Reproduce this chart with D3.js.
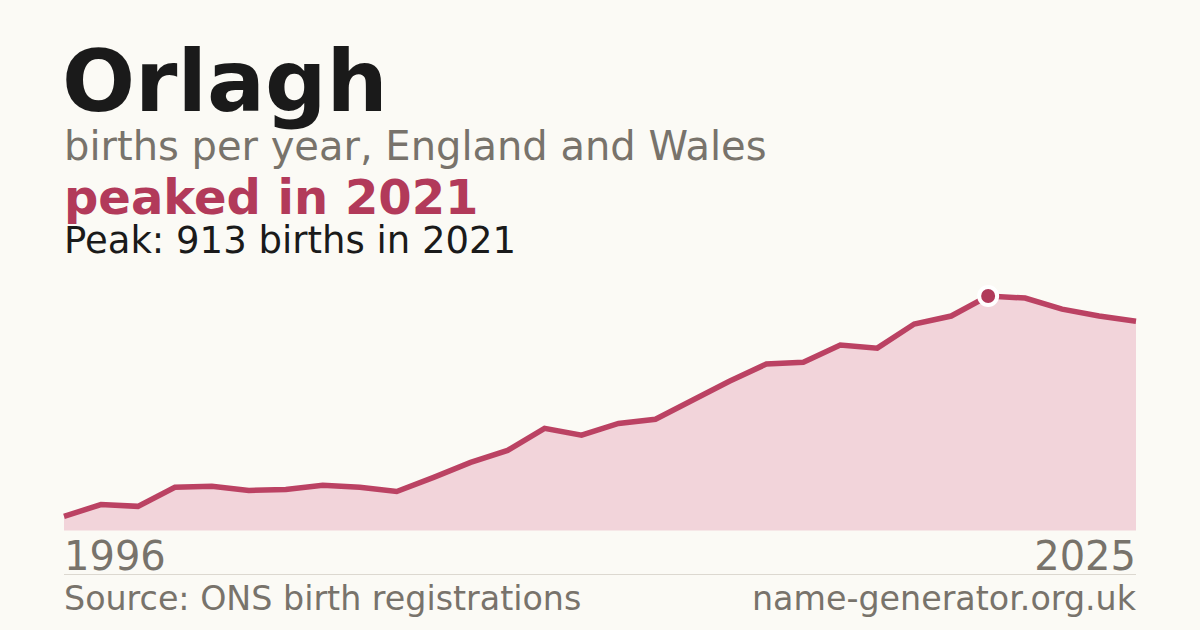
<!DOCTYPE html>
<html><head><meta charset="utf-8">
<script src="https://cdn.jsdelivr.net/npm/d3@7"></script>
<style>
html,body{margin:0;padding:0;background:#fbfaf5;}
svg{display:block;font-family:"DejaVu Sans",sans-serif;}
</style></head>
<body>
<svg id="c" width="1200" height="630"></svg>
<script>
const years = d3.range(1996, 2026);
const births = [55,101,94,168,172,156,160,176,168,152,207,265,312,398,371,417,433,507,581,648,655,722,710,804,835,913,905,862,835,815];
const startLabel = "1996";
const endLabel = "2025";
const peakYear = 2021;
const peakValue = 913;

const svg = d3.select("#c");
svg.append("rect").attr("width",1200).attr("height",630).attr("fill","#fbfaf5");

const x = d3.scaleLinear().domain([1996, 2025]).range([64, 1136]);
const y = d3.scaleLinear().domain([0, peakValue]).range([530.5, 296]);
const data = years.map((yr,i)=>({yr, v: births[i]}));

svg.append("path").datum(data)
  .attr("d", d3.area().x(d=>x(d.yr)).y0(y(0)).y1(d=>y(d.v)))
  .attr("fill","#f2d4da");
svg.append("path").datum(data)
  .attr("d", d3.line().x(d=>x(d.yr)).y(d=>y(d.v)))
  .attr("fill","none").attr("stroke","#bb4263").attr("stroke-width",5.5)
  .attr("stroke-linejoin","miter");

svg.append("circle").attr("cx",x(peakYear)).attr("cy",y(peakValue)).attr("r",9)
  .attr("fill","#b03a5a").attr("stroke","#ffffff").attr("stroke-width",4);

const t = (txt,xx,yy,size,weight,fill,anchor) => svg.append("text").text(txt)
  .attr("x",xx).attr("y",yy).attr("font-size",size).attr("font-weight",weight)
  .attr("fill",fill).attr("text-anchor",anchor||"start");

t("Orlagh",62,111,86,"bold","#1a1a1a");
t("births per year, England and Wales",64,160,40,"normal","#78736b");
t("peaked in 2021",64,214,48,"bold","#b23a5a");
t("Peak: 913 births in 2021",64,253,37,"normal","#1a1a1a");

t(startLabel,64,570,40,"normal","#78736b");
t(endLabel,1136,570,40,"normal","#78736b","end");
svg.append("line").attr("x1",64).attr("x2",1136).attr("y1",574.5).attr("y2",574.5)
  .attr("stroke","#dcd8d0").attr("stroke-width",1);
t("Source: ONS birth registrations",64,610,33.3,"normal","#78736b");
t("name-generator.org.uk",1136,610,33.3,"normal","#78736b","end");
</script>
</body></html>
